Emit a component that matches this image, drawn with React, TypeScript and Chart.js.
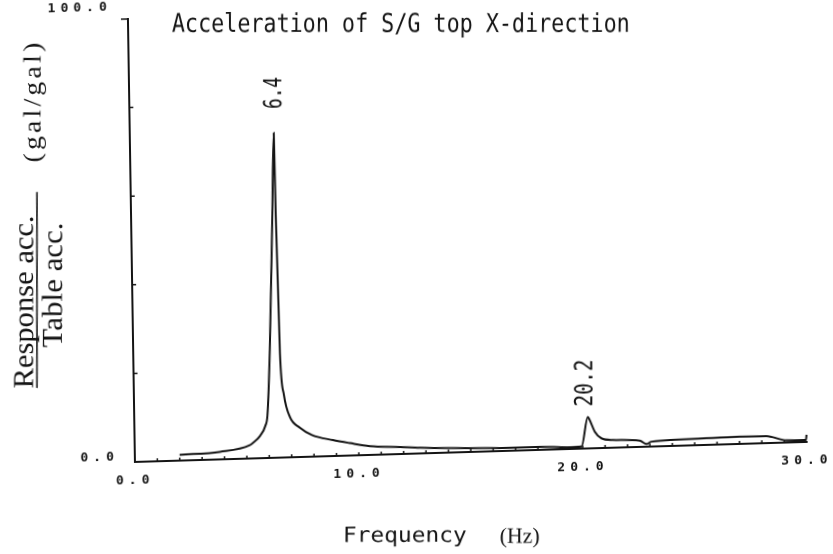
import React, { useEffect, useRef } from 'react';
import { Chart, registerables } from 'chart.js';

Chart.register(...registerables);

// ---- data ----
const freqHz = [2.0, 3.8, 5.14, 5.28, 5.6, 5.85, 5.95, 6.1, 6.31, 6.43, 6.46, 6.55, 6.7, 6.95, 7.39, 7.92, 8.85, 9.61, 10.5, 11.84, 12.73, 14.06, 16.3, 18.1, 19.3, 19.95, 20.25, 20.33, 20.55, 20.84, 21.34, 22.55, 22.85, 23.07, 25.53, 27.01, 28.2, 29.1, 29.97, 30.0];
const responseRatio = [1.3, 1.7, 3.0, 3.5, 5.0, 7.3, 9.7, 24.4, 55.3, 73.3, 55.0, 23.6, 14.1, 9.1, 6.6, 4.9, 3.6, 2.8, 2.0, 1.6, 1.3, 1.0, 0.7, 0.7, 0.4, 0.5, 7.1, 6.4, 3.75, 2.2, 1.75, 1.4, 0.6, 1.1, 1.5, 1.65, 1.6, 0.5, 0.45, 1.6];
const xTickLabels = ['0.0', '10.0', '20.0', '30.0'];
const yTickLabels = ['0.0', '100.0'];
const peakFreqs = [6.43, 20.25];
const peakLabels = ['6.4', '20.2'];
const chartTitle = 'Acceleration of S/G top X-direction';
const xTitleParts = ['Frequency', '(Hz)'];
const yTitleNumerator = 'Response acc.';
const yTitleDenominator = 'Table acc.';
const yTitleUnit = '(gal/gal)';

// scan distortion of the plotted frame (shear)
const SHEAR_VX = 0.0158;
const SHEAR_HY = -0.0298;

const W = 860;
const H = 600;
const INK = '#141414';
const MONO = '"DejaVu Sans Mono"';
const SERIF = '"Liberation Serif"';

function drawText(
  ctx: CanvasRenderingContext2D,
  text: string,
  x: number,
  y: number,
  o: { font: string; len?: number; rot?: boolean; align?: CanvasTextAlign; base?: CanvasTextBaseline; spacing?: string }
) {
  ctx.save();
  ctx.translate(x, y);
  if (o.rot) ctx.rotate(-Math.PI / 2);
  ctx.font = o.font;
  (ctx as any).letterSpacing = o.spacing || '0px';
  ctx.textAlign = o.align || 'center';
  ctx.textBaseline = o.base || 'middle';
  if (o.len) {
    const w = ctx.measureText(text).width;
    ctx.scale(o.len / w, 1);
  }
  ctx.fillStyle = INK;
  ctx.fillText(text, 0, 0);
  ctx.restore();
}

const decorPlugin = {
  id: 'decor',
  beforeDraw(chart: any) {
    (chart.ctx as any).letterSpacing = '5px';
  },
  beforeDatasetsDraw(chart: any) {
    const ctx = chart.ctx as CanvasRenderingContext2D;
    (ctx as any).letterSpacing = '0px';
    const { left, bottom, top } = chart.chartArea;
    const xs = chart.scales.x;
    const ys = chart.scales.y;
    ctx.save();
    ctx.strokeStyle = INK;
    ctx.lineWidth = 1.5;
    ctx.beginPath();
    for (let v = 20; v < 100; v += 20) {
      const y = ys.getPixelForValue(v);
      ctx.moveTo(left, y);
      ctx.lineTo(left + 4, y);
    }
    for (let f = 1; f < 30; f++) {
      const x = xs.getPixelForValue(f);
      ctx.moveTo(x, bottom);
      ctx.lineTo(x, bottom - 3);
    }
    ctx.moveTo(left - 7, top);
    ctx.lineTo(left, top);
    ctx.stroke();
    ctx.restore();
  },
  afterDraw(chart: any) {
    const ctx = chart.ctx as CanvasRenderingContext2D;
    const ox = chart.chartArea.left;
    const oy = chart.chartArea.bottom;
    const xs = chart.scales.x;
    const ys = chart.scales.y;
    const toPage = (px: number, py: number) => ({
      X: ox + (px - ox) + SHEAR_VX * (py - oy),
      Y: oy + SHEAR_HY * (px - ox) + (py - oy),
    });
    ctx.save();
    // undo the scan shear so the typed texts stay upright on the page
    const det = 1 - SHEAR_VX * SHEAR_HY;
    ctx.translate(ox, oy);
    ctx.transform(1 / det, -SHEAR_HY / det, -SHEAR_VX / det, 1 / det, 0, 0);
    ctx.translate(-ox, -oy);

    drawText(ctx, chartTitle, ox + 37, oy - 430, { font: `26px ${MONO}`, len: 458, align: 'left', base: 'alphabetic' });
    drawText(ctx, xTitleParts[0], ox + 208, oy + 80, { font: `21px ${MONO}`, len: 124, align: 'left', base: 'alphabetic' });
    drawText(ctx, xTitleParts[1], ox + 365, oy + 81, { font: `22px ${SERIF}`, len: 40, align: 'left', base: 'alphabetic' });
    drawText(ctx, yTitleUnit, ox - 101, oy - 361, { font: `25px ${SERIF}`, len: 123, rot: true, spacing: '3px' });
    drawText(ctx, yTitleNumerator, ox - 102, oy - 160, { font: `29px ${SERIF}`, len: 173, rot: true, base: 'alphabetic' });
    drawText(ctx, yTitleDenominator, ox - 73, oy - 177, { font: `29px ${SERIF}`, len: 125, rot: true, base: 'alphabetic' });
    ctx.strokeStyle = INK;
    ctx.lineWidth = 1.6;
    ctx.beginPath();
    ctx.moveTo(ox - 98, oy - 270);
    ctx.lineTo(ox - 98, oy - 74);
    ctx.stroke();

    const offs = [
      { dx: 1, dy: -40, len: 32 },
      { dx: -2, dy: -34, len: 47 },
    ];
    peakFreqs.forEach((f, i) => {
      const idx = freqHz.indexOf(f);
      const p = toPage(xs.getPixelForValue(f), ys.getPixelForValue(responseRatio[idx]));
      drawText(ctx, peakLabels[i], p.X + offs[i].dx, p.Y + offs[i].dy, { font: `25px ${MONO}`, len: offs[i].len, rot: true });
    });
    ctx.restore();
  },
};

export default function App() {
  const ref = useRef<HTMLCanvasElement | null>(null);

  useEffect(() => {
    if (!ref.current) return;
    const chart = new Chart(ref.current, {
      type: 'line',
      data: {
        datasets: [
          {
            data: freqHz.map((f, i) => ({ x: f, y: responseRatio[i] })),
            borderColor: INK,
            borderWidth: 2,
            pointRadius: 0,
            fill: false,
            cubicInterpolationMode: 'monotone',
            clip: false as any,
          },
        ],
      },
      options: {
        animation: false,
        responsive: false,
        devicePixelRatio: 1,
        events: [],
        layout: { padding: { top: 19, right: W - 807, bottom: 0, left: 0 }, autoPadding: false },
        plugins: { legend: { display: false }, title: { display: false }, tooltip: { enabled: false } },
        scales: {
          x: {
            type: 'linear',
            min: 0,
            max: 30,
            grid: { display: false, drawTicks: false },
            border: { display: true, color: INK, width: 2 },
            afterFit: (s: any) => {
              s.height = H - 462;
              s.paddingLeft = 0;
              s.paddingRight = 0;
            },
            ticks: {
              stepSize: 1,
              autoSkip: false,
              maxRotation: 0,
              minRotation: 0,
              padding: 11,
              color: INK,
              font: { family: 'DejaVu Sans Mono', size: 13, weight: 'bold' },
              callback: (v: any) => (Number(v) % 10 === 0 ? xTickLabels[Number(v) / 10] : ''),
            },
          },
          y: {
            type: 'linear',
            min: 0,
            max: 100,
            grid: { display: false, drawTicks: false },
            border: { display: true, color: INK, width: 2 },
            afterFit: (s: any) => {
              s.width = 135;
              s.paddingTop = 0;
              s.paddingBottom = 0;
            },
            ticks: {
              stepSize: 20,
              padding: 16,
              labelOffset: -5,
              color: INK,
              font: { family: 'DejaVu Sans Mono', size: 13, weight: 'bold' },
              callback: (v: any) => (Number(v) === 0 ? yTickLabels[0] : Number(v) === 100 ? [yTickLabels[1], ''] : ''),
            },
          },
        },
      } as any,
      plugins: [decorPlugin],
    });
    return () => chart.destroy();
  }, []);

  return (
    <div style={{ position: 'fixed', left: 0, top: 0, width: 833, height: 554, overflow: 'hidden', background: '#fff' }}>
      <canvas
        ref={ref}
        width={W}
        height={H}
        style={{
          position: 'absolute',
          left: 0,
          top: 0,
          width: `${W}px`,
          height: `${H}px`,
          transform: `matrix(1, ${SHEAR_HY}, ${SHEAR_VX}, 1, 0, 0)`,
          transformOrigin: '135px 462px',
        }}
      />
    </div>
  );
}
